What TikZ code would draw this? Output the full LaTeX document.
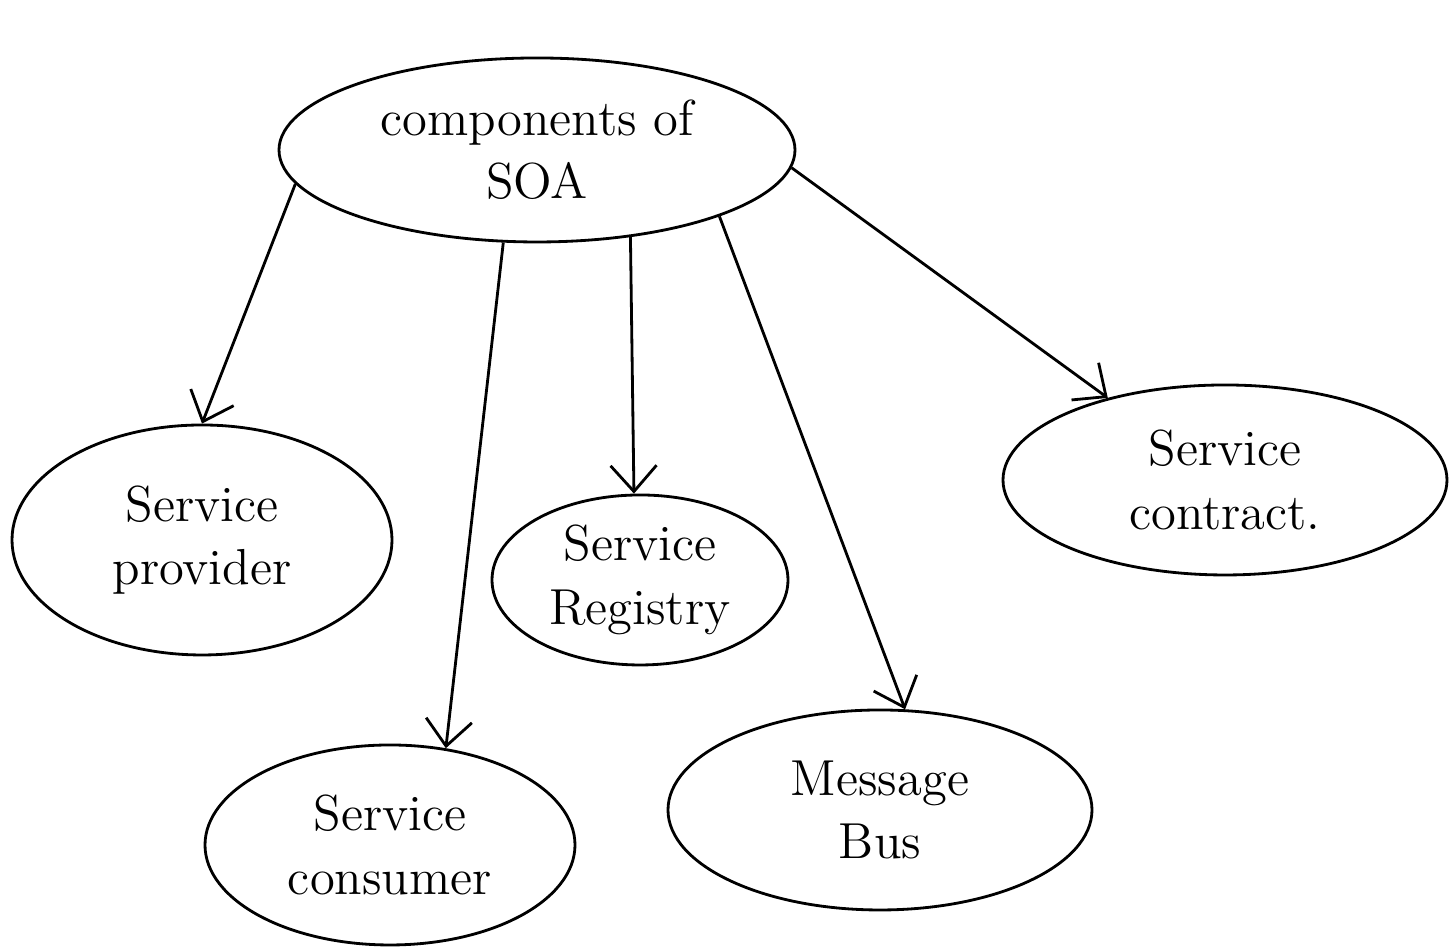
\documentclass[tikz,border=0pt]{standalone}
\usetikzlibrary{arrows.meta,shapes.geometric}

\begin{document}
\begin{tikzpicture}[
  comp/.style={draw,ellipse,align=center,font=\Large,line width=0.8pt,inner sep=0pt},
  arr/.style={-{Straight Barb[length=2.6mm,width=4.6mm]},line width=0.8pt}]
\useasboundingbox (0,0) rectangle (14.54,9.51);
\node[comp,minimum width=5.16cm,minimum height=1.84cm] (soa) at (5.37,8.01)
 {components of\\ SOA};
\node[comp,minimum width=3.8cm,minimum height=2.3cm] (prov) at (2.02,4.11)
 {Service\\ provider};
\node[comp,minimum width=2.96cm,minimum height=1.7cm] (reg) at (6.40,3.71)
 {Service\\ Registry};
\node[comp,minimum width=4.44cm,minimum height=1.9cm] (contr) at (12.25,4.71)
 {Service\\ contract.};
\node[comp,minimum width=3.7cm,minimum height=2.0cm] (cons) at (3.90,1.06)
 {Service\\ consumer};
\node[comp,minimum width=4.24cm,minimum height=2.0cm] (bus) at (8.80,1.41)
 {Message\\ Bus};
\draw[arr] (soa.188)--(prov.north); \draw[arr] (soa.250)--(cons.60);
\draw[arr] (soa.317)--(reg.94); \draw[arr] (soa.340)--(bus.76);
\draw[arr] (soa.356)--(contr.145);
\end{tikzpicture}
\end{document}
